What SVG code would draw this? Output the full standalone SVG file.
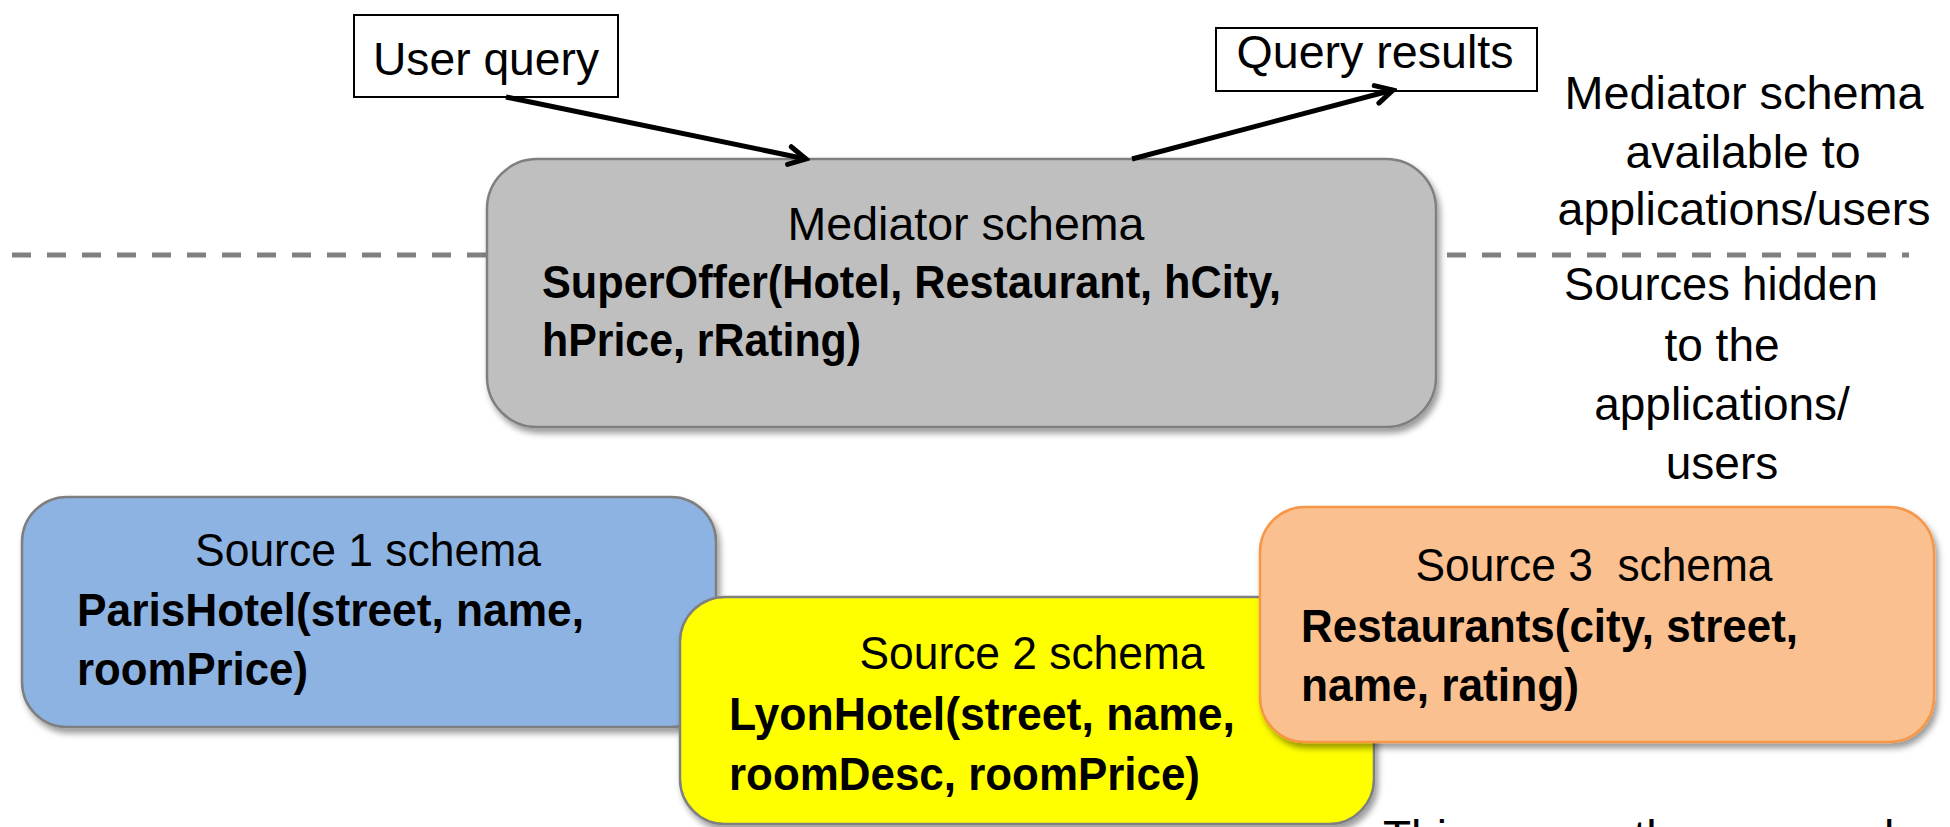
<svg xmlns="http://www.w3.org/2000/svg" width="1950" height="827" viewBox="0 0 1950 827">
<defs>
<style>
text{font-family:"Liberation Sans",Arial,sans-serif;font-size:46px;fill:#000}
.b{font-weight:bold}
.c{text-anchor:middle}
.box{stroke:#7f7f7f;stroke-width:2.5}
.lbl{fill:#fff;stroke:#000;stroke-width:2}
.conn{stroke:#000;stroke-width:5;fill:none}
</style>
<filter id="sh" x="-5%" y="-5%" width="112%" height="120%">
<feDropShadow dx="3" dy="5" stdDeviation="3" flood-color="#000" flood-opacity="0.4"/>
</filter>
<marker id="ah" viewBox="0 0 24 24" refX="20" refY="12" markerWidth="24" markerHeight="24" markerUnits="userSpaceOnUse" orient="auto">
<path d="M3,3 L20,12 L3,21" fill="none" stroke="#000" stroke-width="5" stroke-linecap="round" stroke-linejoin="miter"/>
</marker>
</defs>

<line x1="12" y1="255" x2="1909" y2="255" stroke="#808080" stroke-width="5" stroke-dasharray="19 16"/>

<g id="user-query">
<rect class="lbl" x="354" y="15" width="264" height="82"/>
<text class="c" x="486" y="75" textLength="226" lengthAdjust="spacingAndGlyphs">User query</text>
</g>

<g id="query-results">
<rect class="lbl" x="1216" y="28" width="321" height="63"/>
<text class="c" x="1375" y="68" textLength="277" lengthAdjust="spacingAndGlyphs">Query results</text>
</g>

<g id="mediator">
<rect class="box" x="487" y="159" width="949" height="268" rx="50" fill="#bfbfbf" filter="url(#sh)"/>
<text class="c" x="966" y="240" textLength="357" lengthAdjust="spacingAndGlyphs">Mediator schema</text>
<text class="b" x="542" y="298" textLength="739" lengthAdjust="spacingAndGlyphs">SuperOffer(Hotel, Restaurant, hCity,</text>
<text class="b" x="542" y="356" textLength="319" lengthAdjust="spacingAndGlyphs">hPrice, rRating)</text>
</g>

<g id="note-top">
<text class="c" x="1744" y="109" textLength="359" lengthAdjust="spacingAndGlyphs">Mediator schema</text>
<text class="c" x="1743" y="168" textLength="235" lengthAdjust="spacingAndGlyphs">available to</text>
<text class="c" x="1744" y="225" textLength="373" lengthAdjust="spacingAndGlyphs">applications/users</text>
</g>

<g id="note-bottom">
<text class="c" x="1721" y="300" textLength="314" lengthAdjust="spacingAndGlyphs">Sources hidden</text>
<text class="c" x="1722" y="361">to the</text>
<text class="c" x="1722" y="420">applications/</text>
<text class="c" x="1722" y="479">users</text>
</g>

<g id="source1">
<rect class="box" x="22" y="497" width="694" height="230" rx="45" fill="#8db3e2" filter="url(#sh)"/>
<text class="c" x="368" y="566" textLength="346" lengthAdjust="spacingAndGlyphs">Source 1 schema</text>
<text class="b" x="77" y="626" textLength="507" lengthAdjust="spacingAndGlyphs">ParisHotel(street, name,</text>
<text class="b" x="77" y="685" textLength="231" lengthAdjust="spacingAndGlyphs">roomPrice)</text>
</g>

<g id="source2">
<rect class="box" x="680" y="597" width="694" height="227" rx="45" fill="#ffff00" filter="url(#sh)"/>
<text class="c" x="1032" y="669" textLength="345" lengthAdjust="spacingAndGlyphs">Source 2 schema</text>
<text class="b" x="729" y="730" textLength="506" lengthAdjust="spacingAndGlyphs">LyonHotel(street, name,</text>
<text class="b" x="729" y="790" textLength="471" lengthAdjust="spacingAndGlyphs">roomDesc, roomPrice)</text>
</g>

<g id="source3">
<rect x="1260" y="507" width="674" height="235" rx="45" fill="#fac090" stroke="#f79646" stroke-width="2.5" filter="url(#sh)"/>
<text x="1594" y="581" class="c" xml:space="preserve" textLength="357" lengthAdjust="spacingAndGlyphs">Source 3  schema</text>
<text class="b" x="1301" y="642" textLength="497" lengthAdjust="spacingAndGlyphs">Restaurants(city, street,</text>
<text class="b" x="1301" y="701" textLength="278" lengthAdjust="spacingAndGlyphs">name, rating)</text>
</g>

<g id="note-cut">
<text x="1383" y="853">This means the sources have</text>
</g>

<g id="connectors">
<line class="conn" x1="506" y1="97" x2="806" y2="159" marker-end="url(#ah)"/>
<line class="conn" x1="1132" y1="159" x2="1393" y2="90" marker-end="url(#ah)"/>
</g>
</svg>
